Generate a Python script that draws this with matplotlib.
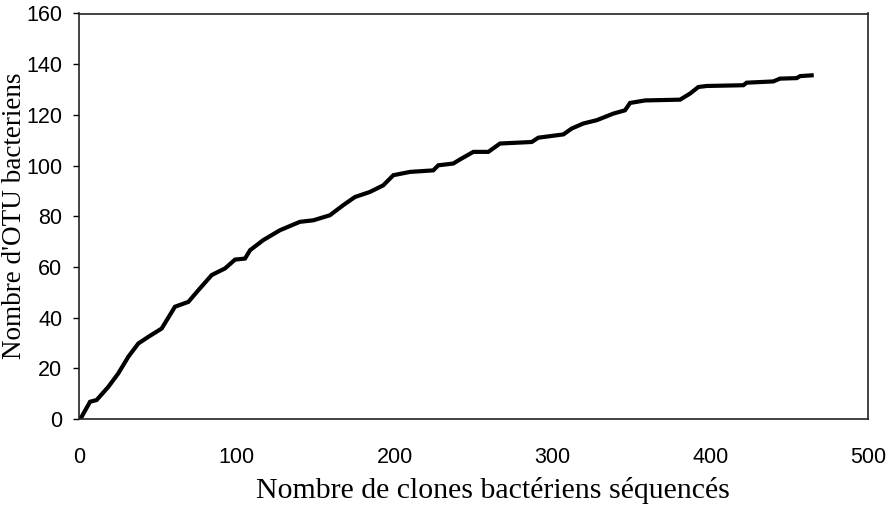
import matplotlib.pyplot as plt

# courbe de raréfaction
clones = [0, 1.7, 7, 11.2, 18.6, 24.9, 31.3, 37.6, 43.9, 52.4, 60.8, 69.3, 75.6,
          84.1, 92.5, 98.9, 105.2, 108.4, 116.8, 127.4, 140, 148.5, 159, 167.5,
          174.9, 184.4, 192.8, 199.2, 209.8, 224.5, 227.7, 237.2, 241.4, 249.9,
          259.4, 266.8, 286.9, 291.1, 307, 312.2, 319.6, 328.1, 338.6, 346,
          349.2, 358.7, 380.9, 387.2, 392.5, 397.8, 421, 423.1, 440, 444.2,
          454.8, 457, 464.3]
otu = [0, 0.9, 6.8, 7.5, 12.7, 18, 24.6, 29.8, 32.4, 35.7, 44.3, 46.2, 50.8,
       56.8, 59.4, 62.9, 63.3, 66.6, 70.6, 74.5, 77.8, 78.4, 80.4, 84.4,
       87.6, 89.6, 92.2, 96.2, 97.5, 98.1, 100.1, 100.8, 102.4, 105.4,
       105.4, 108.7, 109.3, 111, 112.3, 114.6, 116.6, 117.9, 120.5, 121.8,
       124.7, 125.7, 126, 128.4, 131, 131.4, 131.7, 132.7, 133.2, 134.3,
       134.5, 135.3, 135.6]

xticks = [0, 100, 200, 300, 400, 500]
yticks = [0, 20, 40, 60, 80, 100, 120, 140, 160]

sans = ['Liberation Sans', 'DejaVu Sans']
serif = ['Liberation Serif', 'DejaVu Serif']

fig = plt.figure(figsize=(8.94, 5.07), dpi=100)
ax = fig.add_axes([79 / 894, 1 - 419 / 507, 789 / 894, 405.5 / 507])

ax.plot(clones, otu, color='black', lw=3, solid_joinstyle='miter')

ax.set_xlim(0, 500)
ax.set_ylim(0, 160)
ax.set_xticks(xticks)
ax.set_yticks(yticks)
ax.tick_params(axis='x', length=0, pad=20)
ax.tick_params(axis='y', length=4, width=1, direction='out', pad=8)
for lab in ax.get_xticklabels() + ax.get_yticklabels():
    lab.set_family(sans)
    lab.set_fontsize(15.5)

for sp in ax.spines.values():
    sp.set_linewidth(1.2)
    sp.set_color('#222222')

fig.text(493 / 894, 1 - 491 / 507, 'Nombre de clones bactériens séquencés',
         family=serif, fontsize=21.5, ha='center', va='center')
fig.text(15 / 894, 1 - 216 / 507, "Nombre d'OTU bacteriens",
         family=serif, fontsize=19.5, ha='center', va='center', rotation=90)

fig.savefig('out.png', dpi=100)
